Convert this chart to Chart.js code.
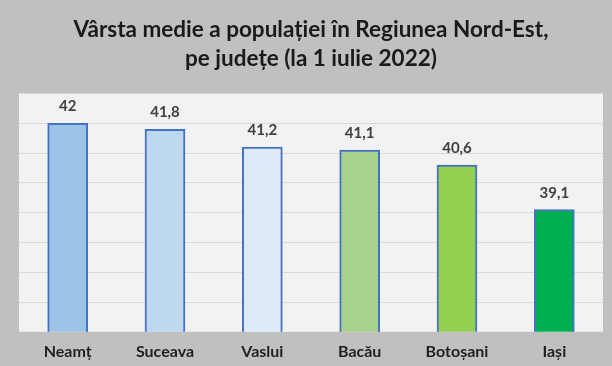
<!DOCTYPE html>
<html>
<head>
<meta charset="utf-8">
<script src="https://cdn.jsdelivr.net/npm/chart.js@4.4.0/dist/chart.umd.min.js"></script>
<style>
  html, body { margin: 0; padding: 0; background: #c0c0c0; }
  #wrap { width: 612px; height: 366px; }
</style>
</head>
<body>
<div id="wrap"><canvas id="ageChart"></canvas></div>
<script>
// date: vârsta medie pe județe, 1 iulie 2022
const judete = ['Neamț', 'Suceava', 'Vaslui', 'Bacău', 'Botoșani', 'Iași'];
const varstaMedie = [42, 41.8, 41.2, 41.1, 40.6, 39.1];
const culoriBare = ['#9dc3e6', '#bdd7ee', '#deebf7', '#a9d18e', '#92d050', '#00b050'];
const axaY = { min: 35, max: 43, pas: 1 };

// fundal deschis pentru zona graficului
const plotBg = {
    id: 'plotBg',
    beforeDraw(chart) {
        const { ctx, chartArea: a } = chart;
        ctx.save();
        ctx.fillStyle = '#f2f2f2';
        ctx.fillRect(a.left, a.top, a.right - a.left, a.bottom - a.top);
        ctx.restore();
    }
};

// etichete cu valori deasupra barelor
const valueLabels = {
    id: 'valueLabels',
    afterDatasetsDraw(chart) {
        const ctx = chart.ctx;
        const meta = chart.getDatasetMeta(0);
        ctx.save();
        ctx.font = 'bold 15px Lato, "Open Sans", sans-serif';
        ctx.fillStyle = '#404040';
        ctx.textAlign = 'center';
        ctx.textBaseline = 'middle';
        meta.data.forEach((bar, i) => {
            const txt = String(varstaMedie[i]).replace('.', ',');
            ctx.fillText(txt, bar.x, bar.y - 17);
        });
        ctx.restore();
    }
};

const ctx = document.getElementById('ageChart').getContext('2d');
new Chart(ctx, {
    type: 'bar',
    data: {
        labels: judete,
        datasets: [{
            data: varstaMedie,
            backgroundColor: culoriBare,
            borderColor: '#4472c4',
            borderWidth: 2,
            borderSkipped: 'bottom',
            barThickness: 40
        }]
    },
    options: {
        responsive: true,
        maintainAspectRatio: false,
        animation: false,
        layout: { padding: { left: 19, right: 9, bottom: -5, top: 0 } },
        scales: {
            y: {
                min: axaY.min,
                max: axaY.max,
                ticks: { display: false, stepSize: axaY.pas },
                border: { display: false },
                grid: {
                    drawTicks: false,
                    color: c => (c.tick.value === axaY.min || c.tick.value === axaY.max) ? 'rgba(0,0,0,0)' : '#d9d9d9',
                    lineWidth: 1
                }
            },
            x: {
                border: { display: false },
                grid: { display: false, drawTicks: false },
                ticks: {
                    color: '#1f1f1f',
                    padding: 10,
                    font: { family: 'Lato, "Open Sans", sans-serif', size: 16, weight: 'bold' }
                }
            }
        },
        plugins: {
            legend: { display: false },
            tooltip: { enabled: false },
            title: {
                display: true,
                text: ['Vârsta medie a populației în Regiunea Nord-Est,', 'pe județe (la 1 iulie 2022)'],
                color: '#1a1a1a',
                font: { family: 'Lato, "Open Sans", sans-serif', size: 22.5, weight: 'bold', lineHeight: 1.3 },
                padding: { top: 15, bottom: 20 }
            }
        }
    },
    plugins: [plotBg, valueLabels]
});
</script>
</body>
</html>
